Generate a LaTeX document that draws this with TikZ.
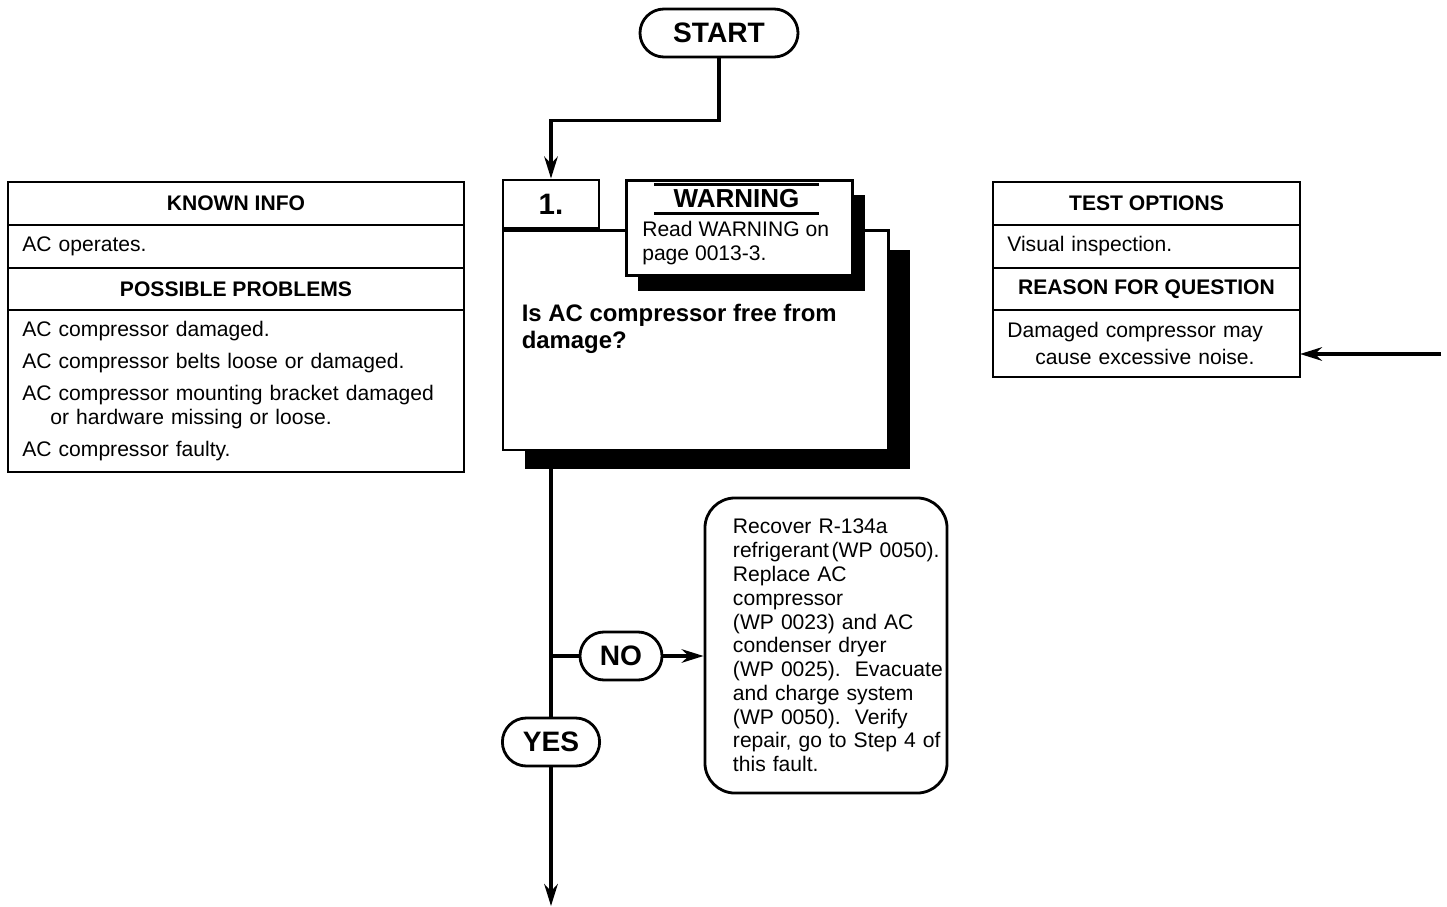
\documentclass[tikz,border=0pt]{standalone}
\usepackage{fontspec}
\setmainfont{Liberation Sans}
\usepackage{xcolor}
\usepackage{tikz}
\usetikzlibrary{shapes,arrows.meta,positioning,fit,backgrounds,shadows}

\begin{document}
\begin{tikzpicture}[
    x=0.025cm, y=-0.025cm,
    node distance=0pt,
    pill/.style={draw,line width=2pt,rounded corners=0.6cm,minimum height=1.2cm,
                 inner sep=0,font=\bfseries\fontsize{20}{24}\selectfont},
    infohead/.style={draw,line width=1.6pt,outer sep=0,minimum height=1.075cm,inner sep=0,
                     font=\bfseries\fontsize{15}{17}\selectfont},
    infobody/.style={draw,line width=1.6pt,outer sep=0,align=left,inner xsep=0.36cm,inner ysep=0,
                     font=\fontsize{15}{17}\selectfont},
    stepbox/.style={draw,line width=2.1pt,fill=white,inner sep=0},
    fixbox/.style={draw,line width=2pt,rounded corners=0.75cm,align=left,inner xsep=0.05cm,
                   inner ysep=0,font=\fontsize{15}{16.9}\selectfont},
    flow/.style={line width=2.2pt,-{Stealth[length=0.55cm,width=0.34cm,inset=0.18cm]}},
    link/.style={line width=2.2pt},
]
\useasboundingbox (0,0) rectangle (1447,907);

% known info / possible problems
\node[infohead,minimum width=11.4cm] (known) at (236,203.5) {KNOWN INFO};
\node[infobody,below=of known,text width=10.68cm,minimum height=1.075cm] (knowntxt) {AC operates.};
\node[infohead,below=of knowntxt,minimum width=11.4cm,minimum height=1.05cm] (probs) {POSSIBLE PROBLEMS};
\node[infobody,below=of probs,text width=10.68cm,minimum height=4.05cm] (probstxt)
  {AC compressor damaged.\\[5.8pt]
   AC compressor belts loose or damaged.\\[5.8pt]
   AC compressor mounting bracket damaged\\
   \hspace*{0.7cm}or hardware missing or loose.\\[5.8pt]
   AC compressor faulty.};

% test options / reason for question
\node[infohead,minimum width=7.675cm] (tests) at (1146.5,203.5) {TEST OPTIONS};
\node[infobody,below=of tests,text width=6.955cm,minimum height=1.075cm] (teststxt) {Visual inspection.};
\node[infohead,below=of teststxt,minimum width=7.675cm,minimum height=1.05cm] (reason) {REASON FOR QUESTION};
\node[infobody,below=of reason,text width=6.955cm,minimum height=1.675cm] (reasontxt)
  {Damaged compressor may\\[2.5pt]
   \hspace*{0.7cm}cause excessive noise.};

% step 1
\node[pill,minimum width=3.95cm] (start) at (719,33) {START};
\node[stepbox,minimum width=2.4cm,minimum height=1.2cm,font=\bfseries\fontsize{21}{25}\selectfont] (s1) at (551,204) {1.};
\node[stepbox,anchor=north west,minimum width=9.625cm,minimum height=5.475cm,
      drop shadow={shadow xshift=0.55cm,shadow yshift=-0.475cm,opacity=1,fill=black}] (q) at (s1.south west) {};
\node[anchor=north west,inner sep=0,align=left,font=\bfseries\fontsize{17}{19.2}\selectfont] (qtxt)
  at ([shift={(20,74)}]q.north west) {Is AC compressor free from\\damage?};
\node[stepbox,anchor=north west,minimum width=5.65cm,minimum height=2.375cm,
      drop shadow={shadow xshift=0.3cm,shadow yshift=-0.375cm,opacity=1,fill=black}] (warn) at (625,179) {};
\node[inner sep=0,minimum width=4.1cm,minimum height=0.7cm,font=\bfseries\fontsize{18.5}{22}\selectfont] (warnhead)
  at ([shift={(-3,20)}]warn.north) {WARNING};
\draw[link] (warnhead.north west) -- (warnhead.north east) (warnhead.south west) -- (warnhead.south east);
\node[anchor=north west,inner sep=0,align=left,font=\fontsize{15}{17}\selectfont] (warntxt)
  at ([shift={(17,42)}]warn.north west) {Read WARNING on\\page 0013-3.};

% answers
\node[pill,minimum width=2.05cm] (no) at (621,656) {NO};
\node[pill,minimum width=2.43cm] (yes) at (551,742) {YES};
\node[fixbox,minimum width=6.05cm,minimum height=7.375cm,text width=5.95cm] (fix) at (826,645.5)
  {\leftskip=0.65cm
   Recover R-134a\\
   refrigerant\hspace{0.12em}(WP~0050).\\
   Replace AC\\
   compressor\\
   (WP 0023) and AC\\
   condenser dryer\\
   (WP~0025).\ \ Evacuate\\
   and charge system\\
   (WP 0050).\ \ Verify\\
   repair, go to Step 4 of\\
   this fault.\par};

\coordinate (bottom) at (551,906);
\coordinate (feed) at (1441,354);

% connectors
\draw[flow] (start.south) -- ++(0,62) -| (s1.north);
\draw[link] (s1 |- q.south) -- (yes.north);
\draw[flow] (yes.south) -- (bottom);
\draw[link] (s1 |- no) -- (no.west);
\draw[flow] (no.east) -- (no.east -| fix.west);
\draw[flow] (feed) -- (feed -| reasontxt.east);
\end{tikzpicture}
\end{document}
